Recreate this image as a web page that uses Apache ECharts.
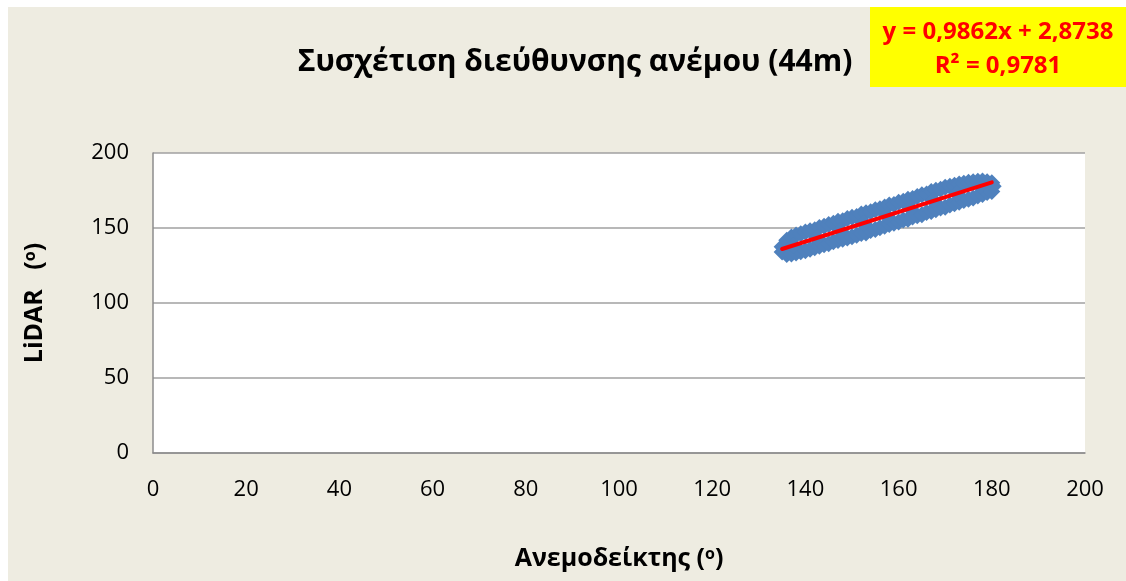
<!DOCTYPE html>
<html>
<head>
<meta charset="utf-8">
<script src="https://cdn.jsdelivr.net/npm/echarts@6/dist/echarts.min.js"></script>
<style>
  html, body { margin: 0; padding: 0; background: #ffffff; }
  #chart { width: 1126px; height: 581px; }
</style>
</head>
<body>
<div id="chart"></div>
<script>
// Wind direction: anemometer (x) vs LiDAR (y), degrees, 44 m height
const anemometer = [
  135, 135, 136, 136, 137, 137, 138, 138, 139, 139, 140, 140, 141, 141, 142, 142,
  143, 143, 144, 144, 145, 145, 146, 146, 147, 147, 148, 148, 149, 149, 150, 150,
  151, 151, 152, 152, 153, 153, 154, 154, 155, 155, 156, 156, 157, 157, 158, 158,
  159, 159, 160, 160, 161, 161, 162, 162, 163, 163, 164, 164, 165, 165, 166, 166,
  167, 167, 168, 168, 169, 169, 170, 170, 171, 171, 172, 172, 173, 173, 174, 174,
  175, 175, 176, 176, 177, 177, 178, 178, 179, 179, 180, 180, 180.3,
  137.5, 142.5, 147.5, 152.5, 157.5, 162.5, 167.5, 172.5, 177.5
];
const lidar = [
  137.5, 134.0, 141.8, 132.3, 144.0, 132.6, 145.3, 133.4, 146.2, 134.2, 147.4, 134.9, 148.2, 135.9, 148.8, 136.9,
  150.3, 137.8, 151.1, 138.8, 152.4, 139.5, 153.1, 140.8, 154.5, 141.6, 154.9, 142.5, 156.4, 143.3, 157.1, 144.2,
  157.7, 145.1, 159.4, 146.4, 160.2, 146.7, 160.9, 148.4, 162.1, 149.0, 162.8, 150.1, 164.0, 151.2, 165.3, 152.4,
  165.7, 153.1, 167.1, 154.0, 167.8, 155.4, 169.2, 155.9, 169.6, 157.3, 171.0, 158.2, 172.2, 158.8, 172.7, 160.3,
  174.3, 161.0, 175.1, 162.2, 175.8, 163.3, 177.1, 163.9, 177.9, 165.4, 178.5, 166.1, 179.4, 167.2, 179.9, 168.3,
  180.5, 169.1, 180.8, 170.0, 181.2, 171.3, 181.4, 172.3, 180.9, 173.6, 180.2, 174.3, 177.8,
  138.4, 143.2, 148.1, 153.3, 158.0, 163.1, 168.2, 173.0, 178.1
];

// Linear trend (least squares) as stated in the annotation box
const trendSlope = [0.9862];
const trendIntercept = [2.8738];
const trendR2 = [0.9781];
const trendRange = [135, 180];

const xTicks = [0, 20, 40, 60, 80, 100, 120, 140, 160, 180, 200];
const yTicks = [0, 50, 100, 150, 200];

const fmt = (v, d) => v.toFixed(d).replace('.', ',');

const points = anemometer.map((x, i) => [x, lidar[i]]);
const trendPoints = trendRange.map(x => [x, trendSlope[0] * x + trendIntercept[0]]);

const chart = echarts.init(document.getElementById('chart'), null, { renderer: 'canvas' });

const FONT = '"Open Sans", "Noto Sans", sans-serif';

// axis-title style with a raised "o" for degrees
const axisNameRich = {
  n: { fontFamily: FONT, fontWeight: 'bold', fontSize: 25, color: '#000' },
  s: { fontFamily: FONT, fontWeight: 'bold', fontSize: 16, color: '#000', verticalAlign: 'top', lineHeight: 22 }
};

chart.setOption({
  backgroundColor: 'transparent',
  animation: false,
  graphic: [
    { type: 'rect', z: -10, silent: true,
      shape: { x: 8, y: 7, width: 1118, height: 574 },
      style: { fill: '#EEECE1' } },
    { type: 'rect', z: -5, silent: true,
      shape: { x: 870, y: 7, width: 256, height: 80 },
      style: { fill: '#FFFF00' } },
    { type: 'text', z: 10, silent: true,
      style: {
        x: 998, y: 32, align: 'center', verticalAlign: 'middle',
        text: 'y = ' + fmt(trendSlope[0], 4) + 'x + ' + fmt(trendIntercept[0], 4),
        fill: '#FF0000', font: 'bold 24px ' + FONT
      } },
    { type: 'text', z: 10, silent: true,
      style: {
        x: 998, y: 66, align: 'center', verticalAlign: 'middle',
        text: 'R² = ' + fmt(trendR2[0], 4),
        fill: '#FF0000', font: 'bold 24px ' + FONT
      } }
  ],
  title: {
    text: 'Συσχέτιση διεύθυνσης ανέμου (44m)',
    left: 570, top: 42, textAlign: 'center',
    textStyle: { fontFamily: FONT, fontWeight: 'bold', fontSize: 30, color: '#000' }
  },
  grid: {
    left: 153, right: 41, top: 153, bottom: 128,
    show: true, backgroundColor: '#FFFFFF', borderWidth: 0
  },
  xAxis: {
    type: 'value', min: xTicks[0], max: xTicks[xTicks.length - 1], interval: xTicks[1] - xTicks[0],
    name: '{n|Ανεμοδείκτης (}{s|o}{n|)}', nameLocation: 'middle', nameGap: 93,
    nameTextStyle: { fontFamily: FONT, fontWeight: 'bold', fontSize: 25, color: '#000', rich: axisNameRich },
    axisLine: { show: true, lineStyle: { color: '#8C8C8C', width: 1.5 } },
    axisTick: { show: false },
    splitLine: { show: false },
    axisLabel: { fontFamily: FONT, fontSize: 22, color: '#000', margin: 26 }
  },
  yAxis: {
    type: 'value', min: yTicks[0], max: yTicks[yTicks.length - 1], interval: yTicks[1] - yTicks[0],
    name: '{n|LiDAR   (}{s|o}{n|)}', nameLocation: 'middle', nameGap: 106, nameRotate: 90,
    nameTextStyle: { fontFamily: FONT, fontWeight: 'bold', fontSize: 25, color: '#000', rich: axisNameRich },
    axisLine: { show: true, lineStyle: { color: '#8C8C8C', width: 1.5 } },
    axisTick: { show: false },
    splitLine: { show: true, lineStyle: { color: '#A0A0A0', width: 1.5 } },
    axisLabel: { fontFamily: FONT, fontSize: 22, color: '#000', margin: 24 }
  },
  series: [
    {
      type: 'scatter', data: points,
      symbol: 'diamond', symbolSize: 17,
      itemStyle: { color: '#4F81BD', opacity: 1 },
      z: 2
    },
    {
      type: 'line', data: trendPoints,
      symbol: 'none', lineStyle: { color: '#FF0000', width: 4, cap: 'round' },
      z: 3
    }
  ]
});
</script>
</body>
</html>
